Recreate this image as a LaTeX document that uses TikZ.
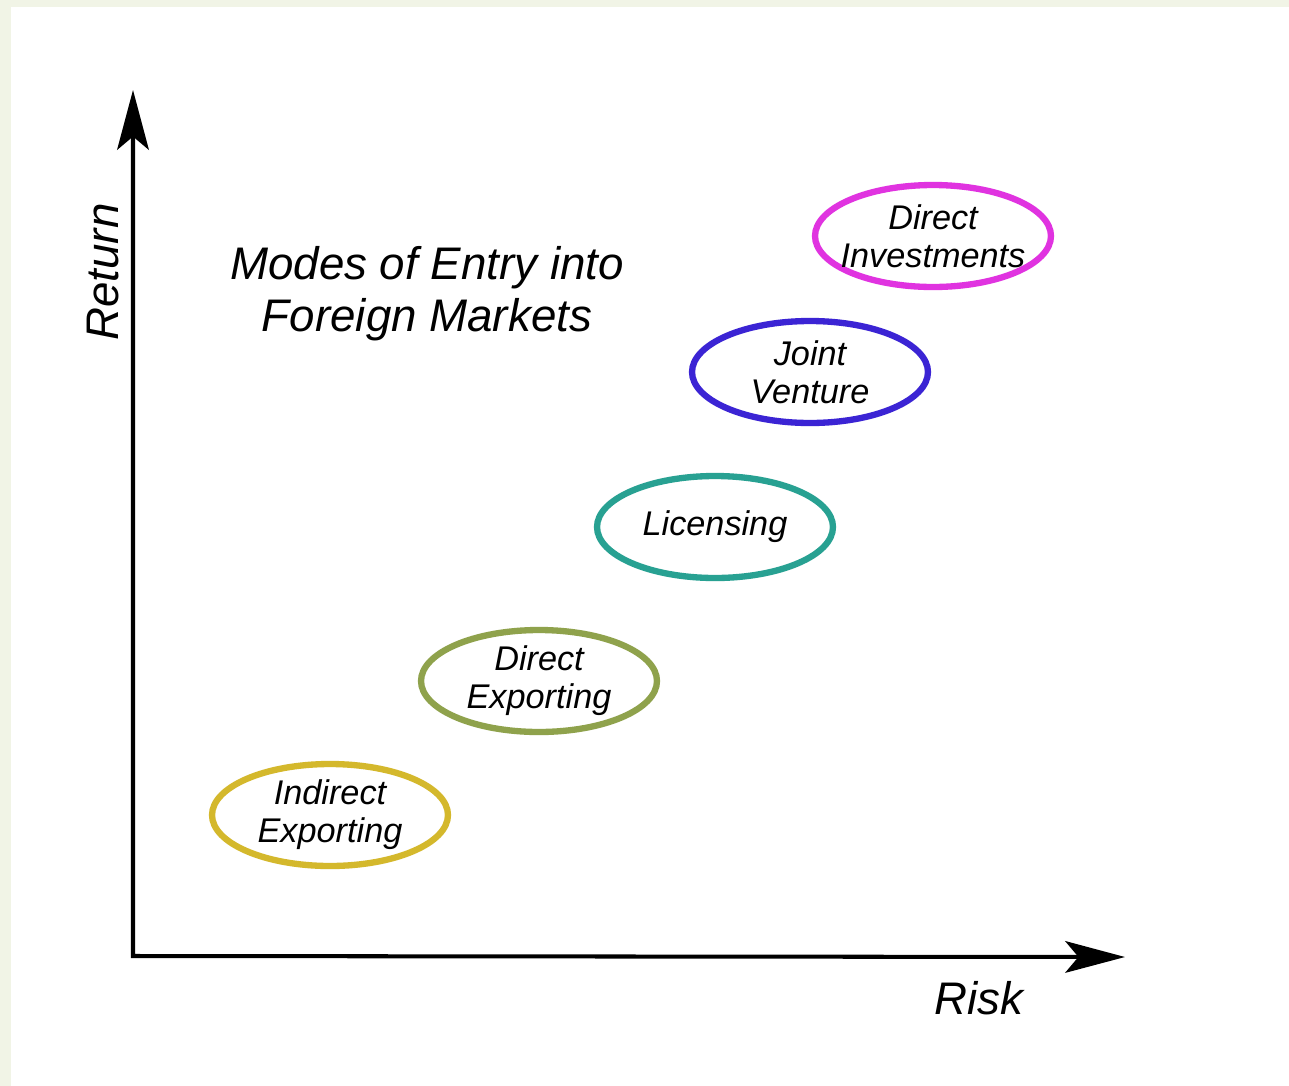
\documentclass[tikz,border=0pt]{standalone}
\usepackage{fontspec}
\setmainfont{Liberation Sans}
\usetikzlibrary{arrows.meta,shapes.geometric}

\definecolor{bgGreen}{HTML}{F1F4E6}
\definecolor{ieCol}{HTML}{D4B82C}
\definecolor{deCol}{HTML}{8FA24C}
\definecolor{licCol}{HTML}{28A192}
\definecolor{jvCol}{HTML}{3B24D4}
\definecolor{diCol}{HTML}{E033E0}

\tikzset{
  mode/.style={ellipse, line width=3.6pt, minimum width=4.72cm, minimum height=2.04cm, inner sep=0pt},
  modetext/.style={font=\itshape\fontsize{19.5}{21.5}\selectfont, align=center, inner sep=0pt},
  axislabel/.style={font=\itshape\fontsize{26}{29.5}\selectfont, align=center, inner sep=0pt}
}

\begin{document}
\begin{tikzpicture}[x=0.02cm,y=-0.02cm,>={Stealth[length=34pt,width=18pt,inset=7.5pt]}]
          \useasboundingbox (0,0) rectangle (1289,1086);
          \fill[bgGreen] (0,0) rectangle (1289,1086);
          \fill[white] (11,7) rectangle (1289,1086);
          % axes
          \coordinate (origin) at (133,956);
          \coordinate (ytip) at (133,90);
          \coordinate (xtip) at (1125,957);
          \draw[line width=2.3pt,<->] (ytip) -- (origin) -- (xtip);
          \node[axislabel,rotate=90] (ret) at (103,272) {Return};
          \node[axislabel] (risk) at (979,998) {Risk};
          \node[axislabel] (title) at (427,294) {Modes of Entry into\\Foreign Markets};
          % modes
          \node[mode,draw=ieCol,label={[modetext]center:{Indirect\\Exporting}}] (ie) at (330,815) {};
          \node[mode,draw=deCol,label={[modetext]center:{Direct\\Exporting}}] (de) at (539,681) {};
          \node[mode,draw=licCol,label={[modetext]center:{Licensing}}] (lic) at (715,527) {};
          \node[mode,draw=jvCol,label={[modetext]center:{Joint\\Venture}}] (jv) at (810,372) {};
          \node[mode,draw=diCol,label={[modetext]center:{Direct\\Investments}}] (di) at (933,236) {};
        \end{tikzpicture}
\end{document}
